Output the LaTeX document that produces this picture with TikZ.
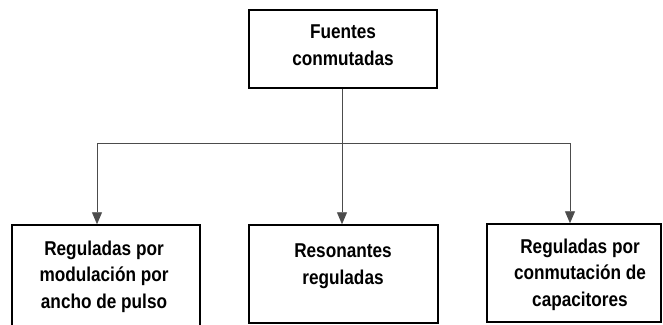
\documentclass[tikz,border=0pt]{standalone}
\usepackage{fontspec}
\setmainfont{Liberation Sans}[FakeStretch=0.86]
\usetikzlibrary{arrows.meta}
\begin{document}
\begin{tikzpicture}[x=1pt,y=-1pt,
  box/.style={draw=black, line width=1.5pt, minimum width=#1, inner sep=0pt},
  lbl/.style={align=center, inner sep=0pt, anchor=base, text=black,
    font=\bfseries\fontsize{20}{26.5}\selectfont},
  conn/.style={draw=black!70, line width=0.9pt},
  arr/.style={conn, -{Triangle[width=10pt,length=12pt]}}]
\useasboundingbox (0,0) rectangle (663,324);
\clip (0,0) rectangle (663,324);
\node[box=188pt, minimum height=78pt] (top) at (343,49) {};
\node[box=188pt, minimum height=115pt] (left) at (106,282.5) {};
\node[box=189pt, minimum height=98pt] (mid) at (343.5,274) {};
\node[box=174pt, minimum height=98pt] (right) at (574,273) {};
\node[lbl] (ttop) at (343,65) {Fuentes\\conmutadas};
\node[lbl] (tleft) at (104,308) {Reguladas por\\modulación por\\ancho de pulso};
\node[lbl] (tmid) at (343,284) {Resonantes\\reguladas};
\node[lbl] (tright) at (580,306) {Reguladas por\\conmutación de\\capacitores};
\coordinate (jc) at (342,143);
\coordinate (jl) at (97,143);
\coordinate (jr) at (570,143);
\draw[conn] (jl) -- (jr);
\draw[arr] (top.south -| jc) -- (mid.north -| jc);
\draw[arr] (jl) -- (left.north -| jl);
\draw[arr] (jr) -- (right.north -| jr);
\end{tikzpicture}
\end{document}
